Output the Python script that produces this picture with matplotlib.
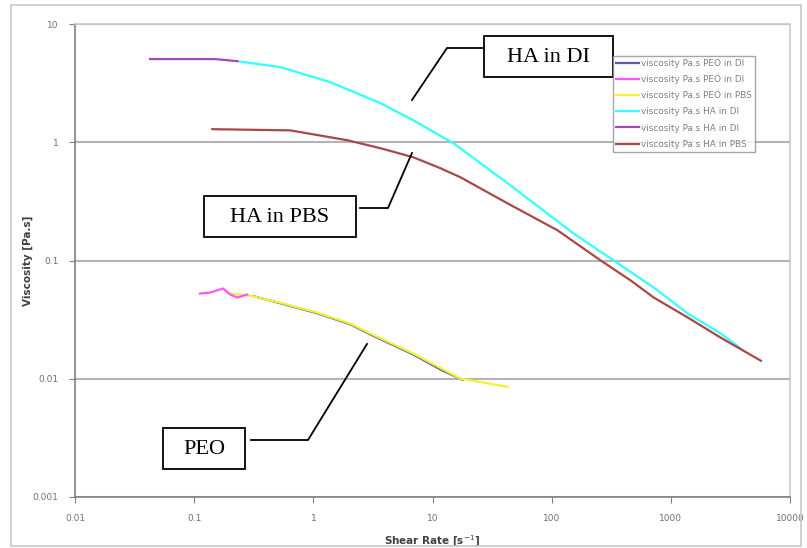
import matplotlib.pyplot as plt
from matplotlib.patches import Rectangle
from matplotlib.ticker import FixedLocator, FixedFormatter, NullLocator

# (shear rate [1/s], viscosity [Pa.s])
peo_di_x = [0.313, 0.56, 1.08, 2.05, 3.01, 6.92, 12.0, 17.9]
peo_di_y = [0.0500, 0.0428, 0.0358, 0.0288, 0.0237, 0.0160, 0.0118, 0.0098]

peo_di2_x = [0.112, 0.136, 0.175, 0.201, 0.230, 0.279]
peo_di2_y = [0.0525, 0.0536, 0.0579, 0.0515, 0.0486, 0.0515]

peo_pbs_x = [0.201, 0.296, 0.56, 1.08, 2.05, 3.01, 6.92, 17.2, 22.1, 42.7]
peo_pbs_y = [0.0525, 0.0505, 0.0432, 0.0362, 0.0292, 0.0241, 0.0163, 0.0100, 0.0096, 0.00855]

ha_di_x = [0.23, 0.528, 1.39, 3.66, 6.92, 15.0, 42.7, 153, 332, 719, 1390, 2630, 3870]
ha_di_y = [4.85, 4.32, 3.22, 2.14, 1.53, 0.98, 0.45, 0.169, 0.100, 0.059, 0.0356, 0.0241, 0.0180]

ha_di2_x = [0.0427, 0.0925, 0.150, 0.230]
ha_di2_y = [5.05, 5.05, 5.05, 4.85]

ha_pbs_x = [0.142, 0.641, 1.93, 3.66, 6.92, 11.7, 17.2, 42.7, 112, 258, 461, 719, 1390, 2630, 5700]
ha_pbs_y = [1.29, 1.26, 1.04, 0.89, 0.746, 0.602, 0.505, 0.304, 0.180, 0.100, 0.0677,
            0.0486, 0.0329, 0.0222, 0.0142]

labels = ['viscosity Pa.s PEO in DI', 'viscosity Pa.s PEO in DI', 'viscosity Pa.s PEO in PBS',
          'viscosity Pa.s HA in DI', 'viscosity Pa.s HA in DI', 'viscosity Pa.s HA in PBS']
colors = ['#5a5aa8', '#ff55ff', '#f2f230', '#33ffff', '#a848b8', '#a84848']

xticks = [0.01, 0.1, 1, 10, 100, 1000, 10000]
xticklabels = ['0.01', '0.1', '1', '10', '100', '1000', '10000']
yticks = [0.001, 0.01, 0.1, 1, 10]
yticklabels = ['0.001', '0.01', '0.1', '1', '10']

W, H = 807, 548
fig = plt.figure(figsize=(W / 100, H / 100), dpi=100)
ax = fig.add_axes([75 / W, 51 / H, 715 / W, 473 / H])

series = [(peo_di_x, peo_di_y), (peo_di2_x, peo_di2_y), (peo_pbs_x, peo_pbs_y),
          (ha_di_x, ha_di_y), (ha_di2_x, ha_di2_y), (ha_pbs_x, ha_pbs_y)]
# draw order so that PEO in DI sits under PEO in PBS like in the picture
order = [0, 2, 1, 3, 5, 4]
lines = [None] * 6
for i in order:
    xs, ys = series[i]
    lines[i], = ax.plot(xs, ys, color=colors[i], lw=1.6, label=labels[i])

ax.set_xscale('log')
ax.set_yscale('log')
ax.set_xlim(0.01, 10000)
ax.set_ylim(0.001, 10)
ax.xaxis.set_major_locator(FixedLocator(xticks))
ax.xaxis.set_major_formatter(FixedFormatter(xticklabels))
ax.yaxis.set_major_locator(FixedLocator(yticks))
ax.yaxis.set_major_formatter(FixedFormatter(yticklabels))
ax.xaxis.set_minor_locator(NullLocator())
ax.yaxis.set_minor_locator(NullLocator())
ax.tick_params(axis='both', direction='out', length=4, color='#808080',
               labelcolor='#707070', labelsize=6.5, pad=8)
ax.grid(True, axis='y', color='#b4b4b4', lw=1.5)
ax.set_axisbelow(True)
for side in ['left', 'bottom']:
    ax.spines[side].set_color('#808080')
    ax.spines[side].set_linewidth(1.2)
for side in ['top', 'right']:
    ax.spines[side].set_color('#c8c8c8')
    ax.spines[side].set_linewidth(1.2)

ax.set_xlabel('Shear Rate [s$^{-1}$]', fontsize=7.5, fontweight='bold', color='#404040', labelpad=8)
ax.set_ylabel('Viscosity [Pa.s]', fontsize=7.5, fontweight='bold', color='#404040')
ax.yaxis.set_label_coords(-42 / 715, 0.5)

leg = fig.legend(handles=lines, labels=labels, loc='upper left',
                 bbox_to_anchor=(613 / W, 1 - 56 / H), fontsize=6.4, labelcolor='#808080',
                 frameon=True, fancybox=False, edgecolor='#909090', handlelength=2.6,
                 handletextpad=0.2, labelspacing=0.8, borderpad=0.35, borderaxespad=0)
leg.get_frame().set_linewidth(1.0)

# overlay in pixel coordinates for the callout boxes and the outer frame
ov = fig.add_axes([0, 0, 1, 1], facecolor='none')
ov.set_xlim(0, W)
ov.set_ylim(H, 0)
ov.axis('off')
ov.add_patch(Rectangle((11, 5), 790, 541, fill=False, ec='#c8c8c8', lw=1.2))

boxes = [('HA in DI', 484, 36, 129, 41), ('HA in PBS', 204, 196, 152, 41), ('PEO', 163, 428, 82, 41)]
for txt, bx, by, bw, bh in boxes:
    ov.add_patch(Rectangle((bx, by), bw, bh, fill=True, fc='white', ec='black', lw=1.3))
    ov.text(bx + bw / 2, by + bh / 2 + 1, txt, ha='center', va='center',
            fontsize=16, family='Liberation Serif')

ov.plot([484, 447, 412], [48, 48, 100], color='black', lw=1.3)
ov.plot([360, 388, 412], [208, 208, 153], color='black', lw=1.3)
ov.plot([251, 308, 367], [440, 440, 344], color='black', lw=1.3)

fig.savefig('out.png', dpi=100)
